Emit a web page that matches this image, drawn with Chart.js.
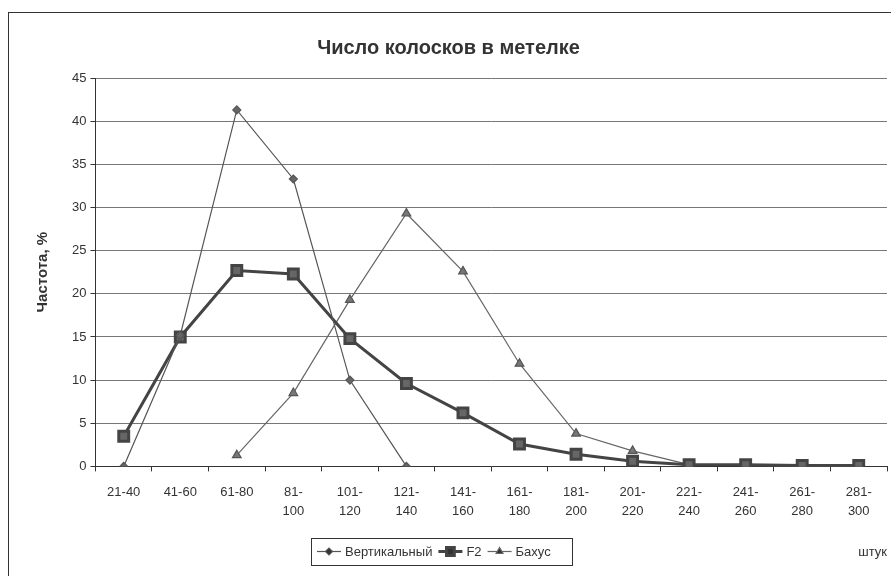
<!DOCTYPE html>
<html>
<head>
<meta charset="utf-8">
<script src="https://cdn.jsdelivr.net/npm/chart.js@4/dist/chart.umd.min.js"></script>
<style>
  body { margin: 0; background: #fff; }
  #wrap { position: relative; width: 891px; height: 576px; overflow: hidden; }
  #frame { position: absolute; left: 8px; top: 12px; width: 900px; height: 600px; border: 1px solid #333; border-right: none; border-bottom: none; }
  canvas { position: absolute; left: 0; top: 0; }
</style>
</head>
<body>
<div id="wrap">
  <div id="frame"></div>
  <canvas id="myChart" width="897" height="576"></canvas>
</div>
<script>
const categories = [['21-40'], ['41-60'], ['61-80'], ['81-', '100'], ['101-', '120'], ['121-', '140'], ['141-', '160'],
  ['161-', '180'], ['181-', '200'], ['201-', '220'], ['221-', '240'], ['241-', '260'], ['261-', '280'], ['281-', '300']];
const vertikalny = [0, 15.2, 41.3, 33.3, 10, 0, null, null, null, null, null, null, null, null];
const f2 = [3.5, 15, 22.7, 22.3, 14.8, 9.6, 6.2, 2.6, 1.4, 0.6, 0.2, 0.2, 0.1, 0.1];
const bakhus = [null, null, 1.3, 8.5, 19.3, 29.3, 22.6, 11.9, 3.8, 1.8, 0.2, 0.1, 0, 0];
const yTicks = [0, 5, 10, 15, 20, 25, 30, 35, 40, 45];

const font = 'Liberation Sans, Arial, sans-serif';

// legend drawn by hand so it looks like the boxed one in the picture
const boxLegend = {
  id: 'boxLegend',
  afterDraw(chart) {
    const ctx = chart.ctx;
    const x0 = 311, y0 = 538, w = 261, h = 27;
    const cy = y0 + h / 2;
    ctx.save();
    ctx.strokeStyle = '#333';
    ctx.lineWidth = 1;
    ctx.strokeRect(x0 + 0.5, y0 + 0.5, w, h);
    ctx.font = '13px ' + font;
    ctx.fillStyle = '#333';
    ctx.textBaseline = 'middle';
    let x = x0 + 6;
    chart.data.datasets.forEach((ds) => {
      ctx.strokeStyle = ds.borderColor;
      ctx.lineWidth = ds.borderWidth;
      ctx.beginPath();
      ctx.moveTo(x, cy);
      ctx.lineTo(x + 24, cy);
      ctx.stroke();
      Chart.helpers.drawPoint(ctx, {
        pointStyle: ds.pointStyle,
        radius: ds.legendRadius,
        borderWidth: 1
      }, x + 12, cy);
      ctx.fillStyle = '#333';
      ctx.fillText(ds.label, x + 28, cy + 1);
      x += 28 + ctx.measureText(ds.label).width + 6;
    });
    ctx.restore();
  }
};

new Chart(document.getElementById('myChart').getContext('2d'), {
  type: 'line',
  data: {
    labels: categories,
    datasets: [
      {
        label: 'Вертикальный',
        data: vertikalny,
        borderColor: '#555',
        borderWidth: 1.2,
        pointStyle: 'rectRot',
        pointRadius: 4,
        legendRadius: 3.5,
        pointBackgroundColor: '#666',
        pointBorderColor: '#555',
        backgroundColor: '#666'
      },
      {
        label: 'F2',
        data: f2,
        borderColor: '#444',
        borderWidth: 3,
        pointStyle: 'rect',
        pointRadius: 7,
        legendRadius: 5.5,
        pointBackgroundColor: '#666',
        pointBorderColor: '#444',
        backgroundColor: '#666'
      },
      {
        label: 'Бахус',
        data: bakhus,
        borderColor: '#666',
        borderWidth: 1.2,
        pointStyle: 'triangle',
        pointRadius: 5,
        legendRadius: 4,
        pointBackgroundColor: '#777',
        pointBorderColor: '#555',
        backgroundColor: '#777'
      }
    ]
  },
  options: {
    responsive: false,
    animation: false,
    spanGaps: false,
    layout: { padding: { left: 0, right: 0, top: 0, bottom: 0 } },
    plugins: {
      legend: { display: false },
      tooltip: { enabled: false },
      title: {
        display: true,
        text: 'Число колосков в метелке',
        color: '#333',
        font: { family: font, size: 20, weight: 'bold' },
        padding: { top: 36, bottom: 18 }
      }
    },
    scales: {
      x: {
        offset: true,
        grid: { offset: true, drawOnChartArea: false, drawTicks: true, tickLength: 5, tickColor: '#333' },
        border: { color: '#333', width: 1 },
        ticks: { color: '#333', font: { family: font, size: 13, lineHeight: 1.5 }, maxRotation: 0, autoSkip: false, padding: 11 },
        title: {
          display: true,
          text: 'штук',
          align: 'end',
          color: '#333',
          font: { family: font, size: 13 },
          padding: { top: 12, bottom: 16 }
        }
      },
      y: {
        min: 0,
        max: 45,
        afterBuildTicks: (axis) => { axis.ticks = yTicks.map((v) => ({ value: v })); },
        grid: { color: '#777', lineWidth: 1, tickLength: 5, tickColor: '#333' },
        border: { color: '#333', width: 1 },
        ticks: { color: '#333', font: { family: font, size: 13 }, padding: 4 },
        title: {
          display: true,
          text: 'Частота, %',
          color: '#333',
          font: { family: font, size: 15, weight: 'bold' },
          padding: { top: 34, bottom: 16 }
        }
      }
    }
  },
  plugins: [boxLegend]
});
</script>
</body>
</html>
